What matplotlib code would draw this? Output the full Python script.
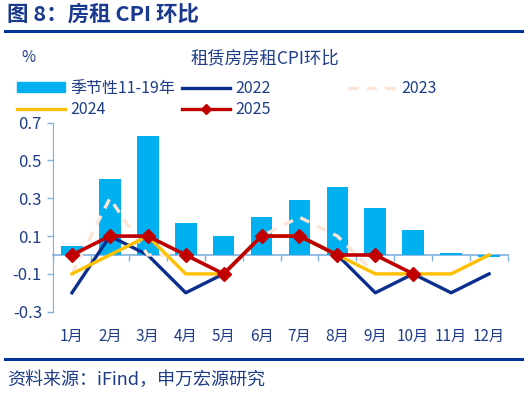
import matplotlib
matplotlib.use('Agg')
import matplotlib.pyplot as plt
from matplotlib.lines import Line2D
from matplotlib.patches import Patch
import numpy as np

plt.rcParams['font.family'] = ['Noto Sans CJK SC', 'DejaVu Sans']

months = ['1月', '2月', '3月', '4月', '5月', '6月', '7月', '8月', '9月', '10月', '11月', '12月']
season = [0.05, 0.40, 0.63, 0.17, 0.10, 0.20, 0.29, 0.36, 0.25, 0.13, 0.01, -0.01]
y2022 = [-0.2, 0.1, 0.0, -0.2, -0.1, 0.1, 0.1, 0.0, -0.2, -0.1, -0.2, -0.1]
y2023 = [-0.1, 0.3, 0.0, 0.0, -0.1, 0.1, 0.2, 0.1, -0.1, -0.1, -0.1, 0.0]
y2024 = [-0.1, 0.0, 0.1, -0.1, -0.1, 0.1, 0.1, 0.0, -0.1, -0.1, -0.1, 0.0]
y2025 = [0.0, 0.1, 0.1, 0.0, -0.1, 0.1, 0.1, 0.0, 0.0, -0.1]
yticks = [0.7, 0.5, 0.3, 0.1, -0.1, -0.3]

navy = '#0B2F8F'
txt = '#1F3C88'
axc = '#7FB2E0'

fig = plt.figure(figsize=(5.3, 3.94), dpi=100)
ax = fig.add_axes([0.1, 0.2089, 0.8585, 0.4797])

x = np.arange(len(months))
ax.bar(x, season, width=0.57, color='#00B0F0', zorder=2)
ax.plot(x, y2022, color=navy, lw=2.4, zorder=3)
ax.plot(x, y2023, color='#FBE5D6', lw=2.4, ls=(0, (3, 2.5)), zorder=3)
ax.plot(x, y2024, color='#FFC000', lw=2.4, zorder=4)
ax.plot(x[:len(y2025)], y2025, color='#C00000', lw=2.6, marker='D', ms=7, zorder=5)

ax.set_xlim(-0.5, 11.5)
ax.set_ylim(-0.3, 0.7)
ax.set_yticks(yticks)
ax.set_yticklabels([f'{v:.1f}' for v in yticks])
ax.set_xticks(x)
ax.set_xticklabels(months)
ax.tick_params(axis='x', length=0, pad=12, labelsize=11, labelcolor=txt)
ax.tick_params(axis='y', length=4, width=1, color=axc, labelsize=12, labelcolor=txt, pad=4)
for s in ['top', 'right', 'bottom']:
    ax.spines[s].set_visible(False)
ax.spines['left'].set_color(axc)

# zero axis with tick marks between categories
sec = ax.secondary_xaxis(0.3)
sec.set_xticks(np.arange(-0.5, 12, 1.0))
sec.tick_params(axis='x', length=4, width=1, color=axc, labelbottom=False, direction='out')
sec.spines['bottom'].set_color(axc)
sec.spines['bottom'].set_linewidth(1.2)

# titles and rules
fig.text(0.013, 0.963, '图 8：房租 CPI 环比', fontsize=15.5, fontweight='bold', color='#1A3A8F', va='center')
fig.add_artist(Line2D([0.01, 0.985], [0.921, 0.921], color='#003399', lw=2.2))
fig.add_artist(Line2D([0.01, 0.985], [0.088, 0.088], color='#003399', lw=2.2))
fig.text(0.013, 0.035, '资料来源：iFind，申万宏源研究', fontsize=13, color=txt, va='center')
fig.text(0.5, 0.853, '租赁房房租CPI环比', fontsize=12.5, color=txt, ha='center', va='center')
fig.text(0.04, 0.853, '%', fontsize=11, color=txt, va='center')

h_season = Patch(color='#00B0F0')
h22 = Line2D([], [], color=navy, lw=2.4)
h23 = Line2D([], [], color='#FBE5D6', lw=2.4, ls=(0, (3, 2.5)))
h24 = Line2D([], [], color='#FFC000', lw=2.4)
h25 = Line2D([], [], color='#C00000', lw=2.4, marker='D', ms=5)

columns = [([h_season, h24], ['季节性11-19年', '2024'], 0.032),
           ([h22, h25], ['2022', '2025'], 0.343),
           ([h23], ['2023'], 0.656)]
for hs, ls, x0 in columns:
    leg = fig.legend(hs, ls, loc='upper left', bbox_to_anchor=(x0, 0.797),
                     frameon=False, fontsize=11.5, handlelength=3.0, handleheight=0.6,
                     handletextpad=0.35, labelspacing=0.25, borderpad=0, borderaxespad=0)
    for t in leg.get_texts():
        t.set_color(txt)

fig.savefig('out.png', dpi=100)
